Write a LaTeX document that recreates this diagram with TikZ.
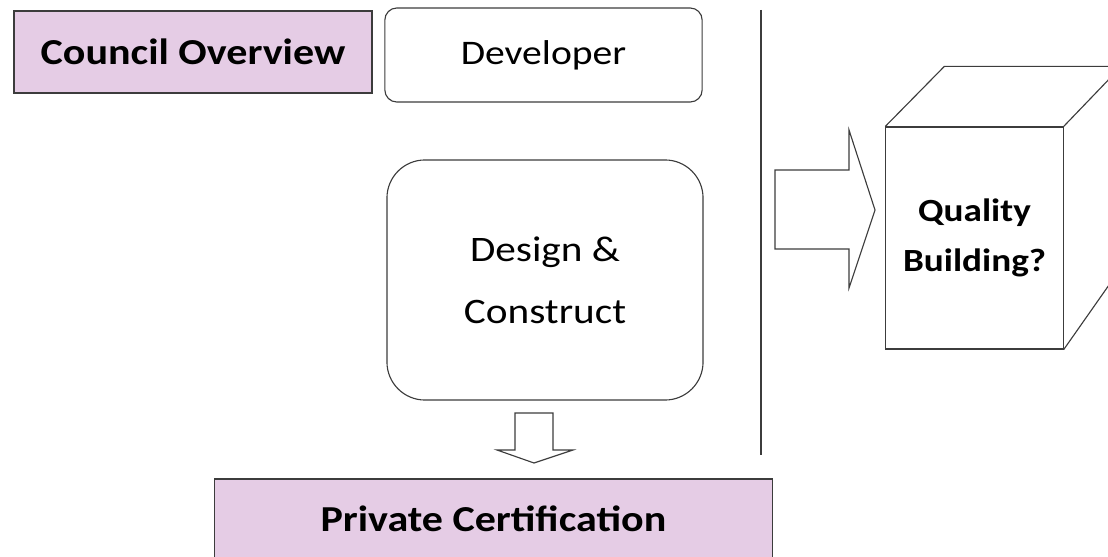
\documentclass[tikz,border=0pt]{standalone}
\usepackage{fontspec}
\setmainfont{Carlito}[FakeStretch=1.15]
\usetikzlibrary{calc,positioning}
\definecolor{lilac}{RGB}{229,204,229}
\definecolor{edge}{RGB}{60,60,60}

\begin{document}
\begin{tikzpicture}[
  x=0.025cm, y=-0.025cm,
  line width=0.8pt,
  box/.style={draw=edge, rectangle, align=center, inner sep=0pt},
  title/.style={box, fill=lilac, font=\fontsize{26}{32}\selectfont\bfseries},
  rbox/.style={box, rounded corners=#1, font=\fontsize{25.5}{44}\selectfont},
  blockarrow/.style={draw=edge, fill=white, line join=miter},
  ]

  \useasboundingbox (0,0) rectangle (1108,557);
  \clip (0,0) rectangle (1108,557);

  \node (council) [title, minimum width=8.95cm, minimum height=2.05cm] at (193,52) {Council Overview};
  \node (dev) [rbox=0.3cm, minimum width=7.93cm, minimum height=2.35cm, font=\fontsize{24.5}{30}\selectfont] at (543.5,55) {Developer};
  \node (des) [rbox=0.95cm, minimum width=7.9cm, minimum height=6cm] at (545,280) {Design \&\\Construct};
  \node (priv) [title, minimum width=13.93cm, minimum height=2cm] at (493.5,519) {Private Certification};

  % separator
  \coordinate (sep top) at (761,10);
  \coordinate (sep bot) at (761,455);
  \draw[edge] (sep top) -- (sep bot);

  % block arrows
  \draw[blockarrow] (515,413) -- (553,413) -- (553,450) -- (573,450) -- (534,463) -- (497,450) -- (515,450) -- cycle;
  \draw[blockarrow] (775,170) -- (849,170) -- (849,130) -- (875,210) -- (849,288) -- (849,249) -- (775,249) -- cycle;

  % building
  \node (bldg) [box, fill=white, minimum width=4.43cm, minimum height=5.55cm, font=\fontsize{23}{35.5}\selectfont\bfseries] at (974.5,238) {Quality\\Building?};
  \draw[edge] (bldg.north west) -- ++(59,-60) coordinate (back nw) -- ++(177,0) coordinate (back ne) -- ++(0,201) coordinate (back se) -- (bldg.south east);
  \draw[edge] (bldg.north east) -- (back ne);

\end{tikzpicture}
\end{document}
